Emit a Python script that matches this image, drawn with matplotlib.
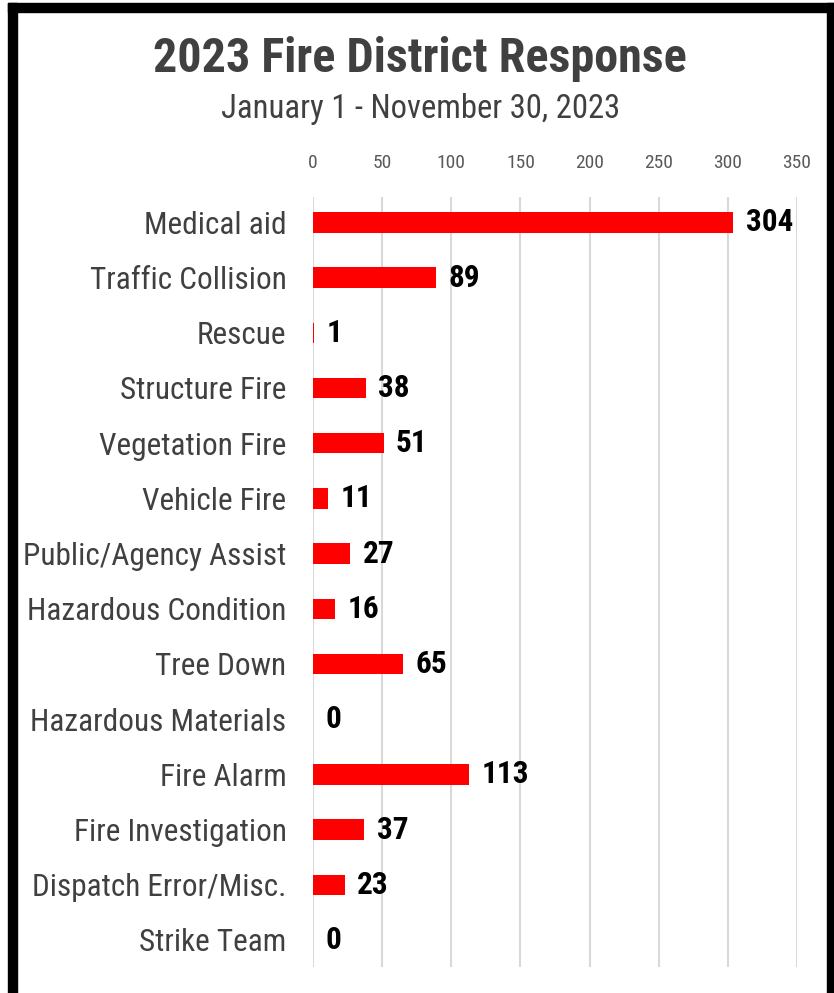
import matplotlib
matplotlib.use("Agg")
import matplotlib.pyplot as plt
from matplotlib.patches import Rectangle
from matplotlib import font_manager as fm

categories = ["Medical aid", "Traffic Collision", "Rescue", "Structure Fire",
              "Vegetation Fire", "Vehicle Fire", "Public/Agency Assist",
              "Hazardous Condition", "Tree Down", "Hazardous Materials",
              "Fire Alarm", "Fire Investigation", "Dispatch Error/Misc.",
              "Strike Team"]
values = [304, 89, 1, 38, 51, 11, 27, 16, 65, 0, 113, 37, 23, 0]
xticks = [0, 50, 100, 150, 200, 250, 300, 350]

title = "2023 Fire District Response"
subtitle = "January 1 - November 30, 2023"

# choose a narrow sans family with static regular and bold faces
weights = {}
for f in fm.fontManager.ttflist:
    if f.style == "normal":
        w = f.weight if isinstance(f.weight, int) else 400
        weights.setdefault(f.name, set()).add(w)
prefs = ["Liberation Sans Narrow", "Arial Narrow", "Roboto Condensed",
         "Archivo Narrow", "PT Sans Narrow", "Pragati Narrow",
         "Encode Sans Condensed", "IBM Plex Sans Condensed"]
chosen = None
for p in prefs:
    ws = weights.get(p, set())
    if 400 in ws and 700 in ws:
        chosen = p
        break
if chosen is None:
    chosen = "Liberation Sans"
    scale = 0.82
else:
    scale = 1.0
plt.rcParams['font.family'] = [chosen, 'Liberation Sans', 'DejaVu Sans']

fig = plt.figure(figsize=(8.34, 9.93), dpi=100)
ax = fig.add_axes([313/834, 1 - 967/993, (797 - 313)/834, (967 - 197)/993])

y = list(range(len(categories)))
ax.barh(y, values, height=0.37, color="#ff0000", zorder=3)
for yi, v in zip(y, values):
    ax.annotate(str(v), xy=(v, yi), xytext=(9, 0), textcoords="offset points",
                ha="left", va="center", fontsize=22.5 * scale, fontweight="bold",
                color="black", zorder=4)

ax.set_xlim(0, 350)
ax.set_ylim(13.49, -0.46)
ax.set_xticks(xticks)
ax.set_xticklabels([str(t) for t in xticks])
ax.xaxis.tick_top()
ax.tick_params(axis="x", length=0, pad=18, labelsize=14 * scale, labelcolor="#595959")
ax.set_yticks(y)
ax.set_yticklabels(categories)
ax.tick_params(axis="y", length=0, pad=19, labelsize=22.5 * scale, labelcolor="#404040")
ax.grid(axis="x", color="#d9d9d9", linewidth=1.5, zorder=0)
for s in ax.spines.values():
    s.set_visible(False)

fig.text(420/834, 1 - 59/993, title, ha="center", va="center",
         fontsize=34.7 * scale, fontweight="bold", color="#404040")
fig.text(421/834, 1 - 109/993, subtitle, ha="center", va="center",
         fontsize=23.5 * scale, color="#404040")

# black frame
W, H = 834, 993
fig.patches.append(Rectangle((8/W, 0), 9/W, 1 - 3/H, transform=fig.transFigure,
                             color="black", zorder=10))
fig.patches.append(Rectangle((8/W, 1 - 12/H), (834 - 8)/W, 9/H, transform=fig.transFigure,
                             color="black", zorder=10))
fig.patches.append(Rectangle((827/W, 0), 7/W, 1 - 3/H, transform=fig.transFigure,
                             color="black", zorder=10))

fig.savefig("out.png", dpi=100)
